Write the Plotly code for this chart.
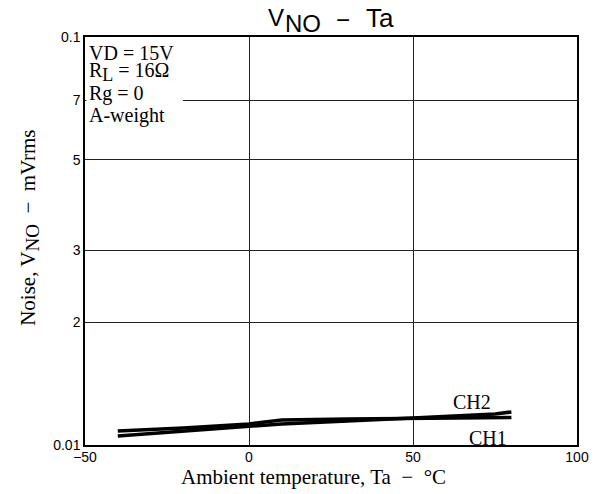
import math
import plotly.graph_objects as go

# Data
ch1_x = [-40, -20, 0, 10, 30, 50, 80]
ch1_y = [0.01082, 0.01101, 0.01126, 0.01152, 0.01158, 0.01161, 0.01168]
ch2_x = [-40, 0, 10, 50, 75, 80]
ch2_y = [0.01052, 0.01113, 0.01126, 0.01165, 0.01191, 0.01205]

y_tickvals = [0.01, 0.02, 0.03, 0.05, 0.07, 0.1]
y_ticktext = ["0.01", "2", "3", "5", "7", "0.1"]
x_tickvals = [-50, 0, 50, 100]
x_ticktext = ["\u221250", "0", "50", "100"]

serif = "Liberation Serif, Times New Roman, serif"
sans = "Liberation Sans, Arial, sans-serif"

fig = go.Figure()
fig.add_trace(go.Scatter(x=ch1_x, y=ch1_y, mode="lines", name="CH1",
                         line=dict(color="black", width=3.5)))
fig.add_trace(go.Scatter(x=ch2_x, y=ch2_y, mode="lines", name="CH2",
                         line=dict(color="black", width=3.5)))

# curve labels (log axis -> annotation y in log10 units)
fig.add_annotation(x=68, y=math.log10(0.012745), text="CH2", showarrow=False,
                   font=dict(family=serif, size=20, color="black"))
fig.add_annotation(x=72.9, y=math.log10(0.01040), text="CH1", showarrow=False,
                   font=dict(family=serif, size=20, color="black"))

# white box behind the condition text
fig.add_shape(type="rect", xref="paper", yref="paper", x0=0.003, x1=0.199,
              y0=0.772, y1=0.997, fillcolor="white", line=dict(width=0),
              layer="above")

cond_lines = ["VD = 15V",
              "R<sub><span style='font-size:18px'>L</span></sub> = 16\u03a9",
              "Rg = 0", "A-weight"]
cond_y = [0.9620, 0.9130, 0.8615, 0.8088]
for t, yy in zip(cond_lines, cond_y):
    fig.add_annotation(xref="paper", yref="paper", x=0.006, y=yy,
                       xanchor="left", yanchor="middle", text=t,
                       showarrow=False, borderpad=0,
                       font=dict(family=serif, size=20, color="black"))

# title pieces
fig.add_annotation(xref="paper", yref="paper", x=0.370, y=1.049, text="V",
                   xanchor="left", yanchor="middle", showarrow=False,
                   borderpad=0, font=dict(family=sans, size=24, color="black"))
fig.add_annotation(xref="paper", yref="paper", x=0.4045, y=1.0319, text="NO",
                   xanchor="left", yanchor="middle", showarrow=False,
                   borderpad=0, font=dict(family=sans, size=24, color="black"))
fig.add_annotation(xref="paper", yref="paper", x=0.5254, y=1.0429,
                   text="\u2212", xanchor="center", yanchor="middle",
                   showarrow=False, borderpad=0,
                   font=dict(family=sans, size=24, color="black"))
fig.add_annotation(xref="paper", yref="paper", x=0.569, y=1.046, text="Ta",
                   xanchor="left", yanchor="middle", showarrow=False,
                   borderpad=0, font=dict(family=sans, size=26, color="black"))

# axis titles
fig.add_annotation(xref="paper", yref="paper", x=-0.112, y=0.532,
                   xanchor="center", yanchor="middle", textangle=-90,
                   text="Noise, V<sub><span style='font-size:19px'>NO</span></sub>  \u2212  mVrms",
                   showarrow=False, borderpad=0,
                   font=dict(family=serif, size=21, color="black"))
fig.add_annotation(xref="paper", yref="paper", x=0.4644, y=-0.078,
                   xanchor="center", yanchor="middle",
                   text="Ambient temperature, Ta  \u2212  \u00b0C",
                   showarrow=False, borderpad=0,
                   font=dict(family=serif, size=21, color="black"))

fig.update_layout(
    width=595, height=486,
    margin=dict(l=77, r=26, t=29, b=49, autoexpand=False),
    paper_bgcolor="white", plot_bgcolor="white",
    showlegend=False,
)
fig.update_xaxes(
    range=[-50, 100], tickvals=x_tickvals, ticktext=x_ticktext,
    showgrid=True, gridcolor="#222222", gridwidth=1,
    showline=True, linecolor="black", linewidth=1.5, mirror=True,
    ticks="", zeroline=False, ticklabelstandoff=-2,
    tickfont=dict(family=sans, size=14, color="black"),
)
fig.update_yaxes(
    type="log", range=[-2, -1], tickvals=y_tickvals, ticktext=y_ticktext,
    showgrid=True, gridcolor="#222222", gridwidth=1,
    showline=True, linecolor="black", linewidth=1.5, mirror=True,
    ticks="", zeroline=False,
    tickfont=dict(family=sans, size=14, color="black"),
)

fig.write_html("out.html")
